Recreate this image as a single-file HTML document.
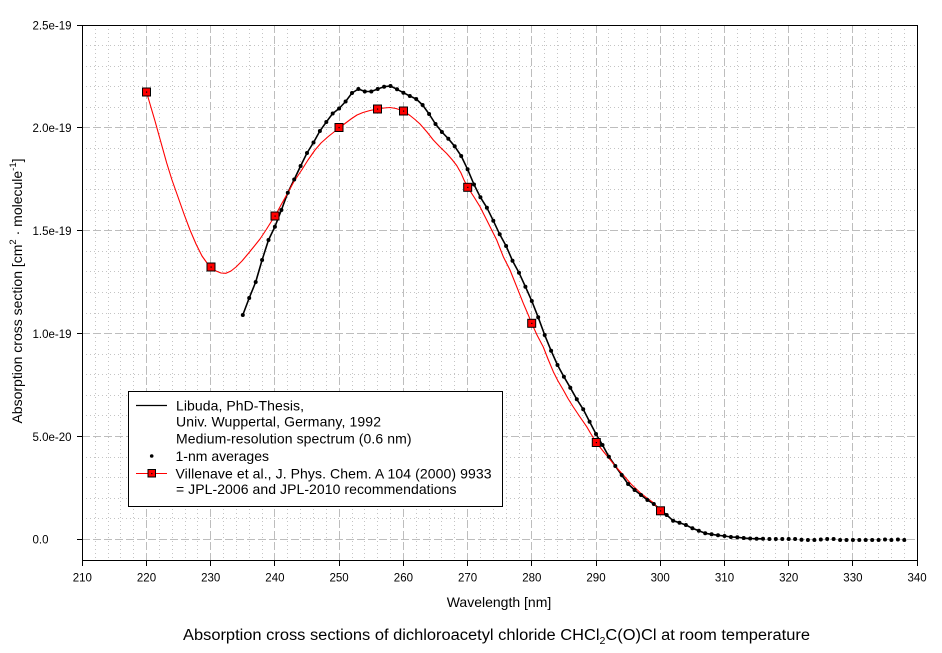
<!DOCTYPE html>
<html>
<head>
<meta charset="utf-8">
<style>
  html,body{margin:0;padding:0;background:#fff;}
  svg{display:block;}
  text{font-family:"Liberation Sans", Arial, sans-serif; fill:#000;}
</style>
</head>
<body>
<svg width="942" height="653" viewBox="0 0 942 653" xmlns="http://www.w3.org/2000/svg">
  <rect x="0" y="0" width="942" height="653" fill="#fff"/>

  <!-- minor grid (dotted) -->
  <g stroke="#c4c4c4" stroke-width="1" stroke-dasharray="1,3" fill="none" shape-rendering="crispEdges">
    <path d="M95.5 25V560M108.5 25V560M120.5 25V560M133.5 25V560M159.5 25V560M172.5 25V560M185.5 25V560M197.5 25V560M223.5 25V560M236.5 25V560M249.5 25V560M262.5 25V560M287.5 25V560M300.5 25V560M313.5 25V560M326.5 25V560M352.5 25V560M364.5 25V560M377.5 25V560M390.5 25V560M416.5 25V560M429.5 25V560M441.5 25V560M454.5 25V560M480.5 25V560M493.5 25V560M506.5 25V560M519.5 25V560M544.5 25V560M557.5 25V560M570.5 25V560M583.5 25V560M608.5 25V560M621.5 25V560M634.5 25V560M647.5 25V560M673.5 25V560M685.5 25V560M698.5 25V560M711.5 25V560M737.5 25V560M750.5 25V560M763.5 25V560M775.5 25V560M801.5 25V560M814.5 25V560M827.5 25V560M840.5 25V560M865.5 25V560M878.5 25V560M891.5 25V560M904.5 25V560"/>
    <path d="M82 518.5H917M82 498.5H917M82 477.5H917M82 457.5H917M82 415.5H917M82 395.5H917M82 374.5H917M82 354.5H917M82 313.5H917M82 292.5H917M82 271.5H917M82 251.5H917M82 210.5H917M82 189.5H917M82 169.5H917M82 148.5H917M82 107.5H917M82 86.5H917M82 66.5H917M82 45.5H917"/>
  </g>
  <!-- major grid (dashed) -->
  <g stroke="#bdbdbd" stroke-width="1" stroke-dasharray="8,3" fill="none" shape-rendering="crispEdges">
    <path d="M146.5 25V560M210.5 25V560M274.5 25V560M339.5 25V560M403.5 25V560M467.5 25V560M531.5 25V560M596.5 25V560M660.5 25V560M724.5 25V560M788.5 25V560M852.5 25V560"/>
    <path d="M82 539.5H917M82 436.5H917M82 333.5H917M82 230.5H917M82 127.5H917"/>
  </g>

  <!-- Libuda spectrum line -->
  <polyline fill="none" stroke="#000" stroke-width="1.6" stroke-linejoin="round" points="242.8,315 249.2,298 255.7,282 262.1,260 268.5,240 274.9,226.7 281.4,210 287.8,192.7 294.2,179.5 300.6,166 307.0,153 313.5,142.5 319.9,131 326.3,122 332.7,113.5 339.1,108.5 345.6,101.5 352.0,93 358.4,89 364.8,91.5 371.3,91.5 377.7,89 384.1,86.7 390.5,86 397.0,89.3 403.4,92.7 409.8,96 416.2,99 422.6,105 429.1,114 435.5,124 441.9,132 448.3,138.7 454.7,146.3 461.2,156 467.6,169.3 474.0,184.5 480.4,197.3 486.9,207.7 493.3,220.7 499.7,234.3 506.1,246 512.5,260.7 519.0,272.7 525.4,286.7 531.8,301 538.2,317.3 544.7,335 551.1,350.7 557.5,365 563.9,376.7 570.3,387.7 576.8,399.3 583.2,409.3 589.6,421.7 596.0,434 602.5,445 608.9,456.7 615.3,466 621.7,475 628.1,484 634.6,490 641.0,495 647.4,500 653.8,504 660.2,509.5 666.7,515 673.1,520.7 679.5,522.7 685.9,525 692.4,528.3 698.8,530.7 705.2,533.3 711.6,534.3 718.0,535.3 724.5,536 730.9,537 737.3,537.3 743.7,538 750.2,538.5 756.6,538.7 763.0,538.8"/>

  <!-- Villenave red curve -->
  <polyline fill="none" stroke="#ff0000" stroke-width="1.1" stroke-linejoin="round" points="146.5,92 150,104 155,121 160,139 166.7,163 172,180 178,197 184,214 190,230 196,244 202,256 207,263 211,267 216,271 221,273 226,273.3 231,271 236,267 242,261 248.3,253.5 254,246.5 260,239 266,230 271,222 275,216 281,205 287.7,193 294,181.5 301.7,170 308,160 315,150 321,143 328.3,136.5 334,132 339,128 345,123.5 351,119 357,115 363,112.5 370,110.5 377.5,109 384,108 390,107.5 396,108.5 403.5,111 410,115.5 415,119.5 420,124 427,132 433.3,140 440,147 446.7,153.5 452,159.5 456.7,165.5 461,173 464,180 467.7,187.3 474,197 480,206.7 486.7,220 496.7,240 503.3,256.7 510,270 516.7,286.7 523.3,303.3 528.3,315 531.7,323.3 537,335 543.3,347 548,359 553.3,371.7 558,381 563.3,390 568,398.5 573.3,407 580,417 586.7,426.7 591,434 596.3,442.5 603,451 610,459.5 616,467 623.3,475 631,484 640,492.5 647,498 653.3,502.7 660.5,511"/>

  <!-- 1-nm average dots -->
  <g fill="#000">
    <circle cx="242.8" cy="315" r="2"/><circle cx="249.2" cy="298" r="2"/><circle cx="255.7" cy="282" r="2"/><circle cx="262.1" cy="260" r="2"/><circle cx="268.5" cy="240" r="2"/><circle cx="274.9" cy="226.7" r="2"/><circle cx="281.4" cy="210" r="2"/><circle cx="287.8" cy="192.7" r="2"/><circle cx="294.2" cy="179.5" r="2"/><circle cx="300.6" cy="166" r="2"/><circle cx="307.0" cy="153" r="2"/><circle cx="313.5" cy="142.5" r="2"/><circle cx="319.9" cy="131" r="2"/><circle cx="326.3" cy="122" r="2"/><circle cx="332.7" cy="113.5" r="2"/><circle cx="339.1" cy="108.5" r="2"/><circle cx="345.6" cy="101.5" r="2"/><circle cx="352.0" cy="93" r="2"/><circle cx="358.4" cy="89" r="2"/><circle cx="364.8" cy="91.5" r="2"/><circle cx="371.3" cy="91.5" r="2"/><circle cx="377.7" cy="89" r="2"/><circle cx="384.1" cy="86.7" r="2"/><circle cx="390.5" cy="86" r="2"/><circle cx="397.0" cy="89.3" r="2"/><circle cx="403.4" cy="92.7" r="2"/><circle cx="409.8" cy="96" r="2"/><circle cx="416.2" cy="99" r="2"/><circle cx="422.6" cy="105" r="2"/><circle cx="429.1" cy="114" r="2"/><circle cx="435.5" cy="124" r="2"/><circle cx="441.9" cy="132" r="2"/><circle cx="448.3" cy="138.7" r="2"/><circle cx="454.7" cy="146.3" r="2"/><circle cx="461.2" cy="156" r="2"/><circle cx="467.6" cy="169.3" r="2"/><circle cx="474.0" cy="184.5" r="2"/><circle cx="480.4" cy="197.3" r="2"/><circle cx="486.9" cy="207.7" r="2"/><circle cx="493.3" cy="220.7" r="2"/><circle cx="499.7" cy="234.3" r="2"/><circle cx="506.1" cy="246" r="2"/><circle cx="512.5" cy="260.7" r="2"/><circle cx="519.0" cy="272.7" r="2"/><circle cx="525.4" cy="286.7" r="2"/><circle cx="531.8" cy="301" r="2"/><circle cx="538.2" cy="317.3" r="2"/><circle cx="544.7" cy="335" r="2"/><circle cx="551.1" cy="350.7" r="2"/><circle cx="557.5" cy="365" r="2"/><circle cx="563.9" cy="376.7" r="2"/><circle cx="570.3" cy="387.7" r="2"/><circle cx="576.8" cy="399.3" r="2"/><circle cx="583.2" cy="409.3" r="2"/><circle cx="589.6" cy="421.7" r="2"/><circle cx="596.0" cy="434" r="2"/><circle cx="602.5" cy="445" r="2"/><circle cx="608.9" cy="456.7" r="2"/><circle cx="615.3" cy="466" r="2"/><circle cx="621.7" cy="475" r="2"/><circle cx="628.1" cy="484" r="2"/><circle cx="634.6" cy="490" r="2"/><circle cx="641.0" cy="495" r="2"/><circle cx="647.4" cy="500" r="2"/><circle cx="653.8" cy="504" r="2"/><circle cx="666.7" cy="515" r="2"/><circle cx="673.1" cy="520.7" r="2"/><circle cx="679.5" cy="522.7" r="2"/><circle cx="685.9" cy="525" r="2"/><circle cx="692.4" cy="528.3" r="2"/><circle cx="698.8" cy="530.7" r="2"/><circle cx="705.2" cy="533.3" r="2"/><circle cx="711.6" cy="534.3" r="2"/><circle cx="718.0" cy="535.3" r="2"/><circle cx="724.5" cy="536" r="2"/><circle cx="730.9" cy="537" r="2"/><circle cx="737.3" cy="537.3" r="2"/><circle cx="743.7" cy="538" r="2"/><circle cx="750.2" cy="538.5" r="2"/><circle cx="756.6" cy="538.7" r="2"/><circle cx="763.0" cy="538.8" r="2"/><circle cx="769.4" cy="539" r="2"/><circle cx="775.8" cy="539" r="2"/><circle cx="782.3" cy="539" r="2"/><circle cx="788.7" cy="539" r="2"/><circle cx="795.1" cy="539" r="2"/><circle cx="801.5" cy="539.8" r="2"/><circle cx="807.9" cy="540" r="2"/><circle cx="814.4" cy="540" r="2"/><circle cx="820.8" cy="539.5" r="2"/><circle cx="827.2" cy="539" r="2"/><circle cx="833.6" cy="539" r="2"/><circle cx="840.1" cy="540" r="2"/><circle cx="846.5" cy="540" r="2"/><circle cx="852.9" cy="540" r="2"/><circle cx="859.3" cy="540" r="2"/><circle cx="865.7" cy="540" r="2"/><circle cx="872.2" cy="540" r="2"/><circle cx="878.6" cy="540" r="2"/><circle cx="885.0" cy="539.5" r="2"/><circle cx="891.4" cy="540" r="2"/><circle cx="897.9" cy="539.5" r="2"/><circle cx="904.3" cy="540" r="2"/>
  </g>

  <!-- red squares -->
  <g fill="#ff0000" stroke="#000" stroke-width="1">
    <rect x="142.5" y="88" width="8" height="8"/>
    <rect x="207" y="263" width="8" height="8"/>
    <rect x="271" y="212" width="8" height="8"/>
    <rect x="335" y="123.5" width="8" height="8"/>
    <rect x="373.5" y="105" width="8" height="8"/>
    <rect x="399.5" y="107" width="8" height="8"/>
    <rect x="463.7" y="183.3" width="8" height="8"/>
    <rect x="527.7" y="319.3" width="8" height="8"/>
    <rect x="592.3" y="438.5" width="8" height="8"/>
    <rect x="656.5" y="506.8" width="8" height="8"/>
  </g>
  <g fill="#000">
    <rect x="146" y="91.5" width="1.2" height="1.2"/>
    <rect x="210.5" y="266.5" width="1.2" height="1.2"/>
    <rect x="274.5" y="215.5" width="1.2" height="1.2"/>
    <rect x="338.5" y="127" width="1.2" height="1.2"/>
    <rect x="377" y="108.5" width="1.2" height="1.2"/>
    <rect x="403" y="110.5" width="1.2" height="1.2"/>
    <rect x="467.2" y="186.8" width="1.2" height="1.2"/>
    <rect x="531.2" y="322.8" width="1.2" height="1.2"/>
    <rect x="595.8" y="442" width="1.2" height="1.2"/>
    <rect x="660" y="510.3" width="1.2" height="1.2"/>
  </g>

  <!-- frame -->
  <rect x="82.5" y="25.5" width="835" height="535" fill="none" stroke="#000" stroke-width="1" shape-rendering="crispEdges"/>

  <!-- ticks -->
  <g stroke="#000" stroke-width="1" shape-rendering="crispEdges">
    <path d="M77 25.5H82M77 127.5H82M77 230.5H82M77 333.5H82M77 436.5H82M77 539.5H82"/>
    <path d="M82.5 560V566M146.5 560V566M210.5 560V566M274.5 560V566M339.5 560V566M403.5 560V566M467.5 560V566M531.5 560V566M596.5 560V566M660.5 560V566M724.5 560V566M788.5 560V566M852.5 560V566M917.5 560V566"/>
  </g>

  <!-- y tick labels -->
  <g font-size="11.5">
    <text x="32.5" y="29.3">2.5e-19</text>
    <text x="32.5" y="132.2">2.0e-19</text>
    <text x="32.5" y="235">1.5e-19</text>
    <text x="32.5" y="338">1.0e-19</text>
    <text x="32.5" y="440.8">5.0e-20</text>
    <text x="32.5" y="543.6">0.0</text>
  </g>
  <!-- x tick labels -->
  <g font-size="11.5" text-anchor="middle">
    <text x="82.3" y="581.5">210</text>
    <text x="146.5" y="581.5">220</text>
    <text x="210.7" y="581.5">230</text>
    <text x="274.9" y="581.5">240</text>
    <text x="339.1" y="581.5">250</text>
    <text x="403.4" y="581.5">260</text>
    <text x="467.6" y="581.5">270</text>
    <text x="531.8" y="581.5">280</text>
    <text x="596.0" y="581.5">290</text>
    <text x="660.2" y="581.5">300</text>
    <text x="724.5" y="581.5">310</text>
    <text x="788.7" y="581.5">320</text>
    <text x="852.9" y="581.5">330</text>
    <text x="917.1" y="581.5">340</text>
  </g>

  <!-- axis titles -->
  <text x="499" y="607" font-size="14" text-anchor="middle">Wavelength [nm]</text>
  <text transform="translate(22,291) rotate(-90)" font-size="14" text-anchor="middle">Absorption cross section [cm<tspan font-size="9.5" dy="-6">2</tspan><tspan dy="6"> · molecule</tspan><tspan font-size="9.5" dy="-6">-1</tspan><tspan dy="6">]</tspan></text>

  <!-- title -->
  <text x="183" y="640" font-size="15.5" textLength="627" lengthAdjust="spacingAndGlyphs">Absorption cross sections of dichloroacetyl chloride CHCl<tspan font-size="10" dy="4">2</tspan><tspan dy="-4">C(O)Cl at room temperature</tspan></text>

  <!-- legend -->
  <rect x="128.5" y="391.5" width="374" height="115" fill="#fff" stroke="#000" stroke-width="1" shape-rendering="crispEdges"/>
  <line x1="136" y1="405.5" x2="167" y2="405.5" stroke="#000" stroke-width="1.2"/>
  <circle cx="151.7" cy="456" r="1.8" fill="#000"/>
  <line x1="136" y1="473.5" x2="167" y2="473.5" stroke="#ff0000" stroke-width="1.1"/>
  <rect x="148" y="469.5" width="7.5" height="7.5" fill="#ff0000" stroke="#000" stroke-width="1"/>
  <rect x="151.2" y="473" width="1.2" height="1.2" fill="#000"/>
  <g font-size="14">
    <text x="176" y="410.7" textLength="128" lengthAdjust="spacing">Libuda, PhD-Thesis,</text>
    <text x="176" y="426.7" textLength="205" lengthAdjust="spacing">Univ. Wuppertal, Germany, 1992</text>
    <text x="176" y="443.3" textLength="235.5" lengthAdjust="spacing">Medium-resolution spectrum (0.6 nm)</text>
    <text x="175.5" y="461" textLength="93.5" lengthAdjust="spacing">1-nm averages</text>
    <text x="175.5" y="478.3" textLength="316" lengthAdjust="spacing">Villenave et al., J. Phys. Chem. A 104 (2000) 9933</text>
    <text x="176" y="494" textLength="280.5" lengthAdjust="spacing">= JPL-2006 and JPL-2010 recommendations</text>
  </g>
</svg>
</body>
</html>
